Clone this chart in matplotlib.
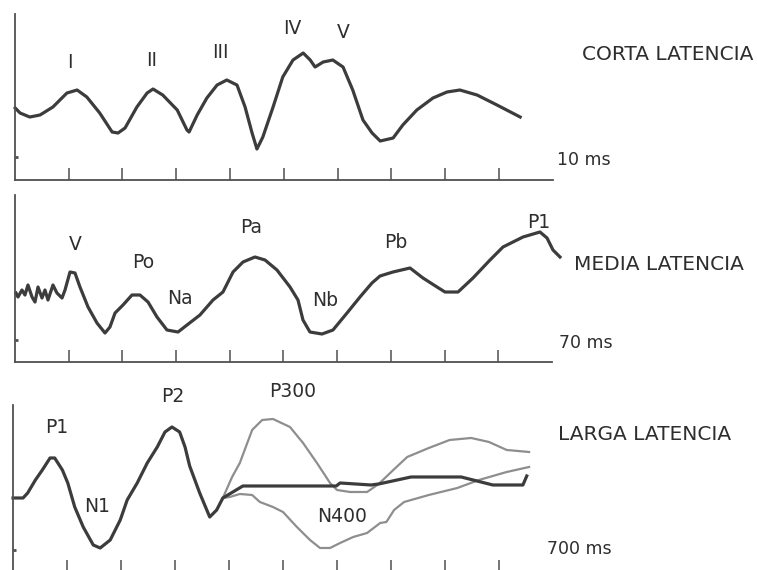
import matplotlib.pyplot as plt

plt.rcParams['font.family'] = ['DejaVu Sans']
plt.rcParams['figure.dpi'] = 100

# --- corta latencia: tiempo (ms) / amplitud relativa ---
corta_t = [0.01, 0.10, 0.28, 0.47, 0.71, 0.97, 1.16, 1.34, 1.58, 1.81, 1.92, 2.05,
           2.27, 2.46, 2.57, 2.75, 3.02, 3.20, 3.24, 3.39, 3.57, 3.76, 3.94, 4.13,
           4.28, 4.41, 4.50, 4.61, 4.80, 4.98, 5.17, 5.36, 5.49, 5.58, 5.73, 5.91,
           6.10, 6.28, 6.47, 6.64, 6.79, 7.03, 7.21, 7.47, 7.77, 8.03, 8.27, 8.59,
           8.96, 9.39]
corta_a = [7.2, 6.7, 6.3, 6.5, 7.3, 8.7, 9.0, 8.3, 6.7, 4.8, 4.7, 5.2,
           7.3, 8.7, 9.1, 8.5, 7.0, 5.0, 4.8, 6.5, 8.2, 9.5, 10.0, 9.5,
           7.3, 4.7, 3.1, 4.3, 7.3, 10.3, 12.0, 12.7, 12.0, 11.3, 11.8, 12.0,
           11.3, 9.0, 6.0, 4.7, 3.9, 4.2, 5.5, 7.0, 8.2, 8.8, 9.0, 8.5,
           7.5, 6.3]
corta_ticks = [1, 2, 3, 4, 5, 6, 7, 8, 9]
corta_picos = ['I', 'II', 'III', 'IV', 'V']
corta_pico_t = [1.03, 2.55, 3.82, 5.15, 6.10]
corta_pico_a = [11.8, 12.0, 12.8, 15.2, 14.8]

# --- media latencia ---
media_t = [0.13, 0.39, 0.91, 1.30, 1.69, 2.22, 2.61, 3.00, 3.52, 3.91, 4.30, 4.95,
           5.47, 6.13, 6.52, 7.17, 7.82, 8.47, 9.52, 10.69, 11.73, 12.38, 13.04,
           14.08, 15.25, 16.29, 17.34, 18.51, 19.81, 21.25, 22.42, 24.11, 25.81,
           27.11, 28.42, 29.72, 31.28, 32.59, 34.15, 35.85, 36.89, 37.54, 38.45,
           40.02, 41.45, 43.28, 44.97, 46.53, 47.58, 49.27, 51.49, 53.18, 55.01,
           56.05, 57.75, 59.70, 61.92, 63.61, 66.22, 68.43, 69.35, 70.13, 71.04]
media_a = [6.9, 6.5, 7.2, 6.7, 7.7, 6.5, 6.0, 7.5, 6.4, 7.2, 6.2, 7.7,
           6.9, 6.4, 7.2, 9.0, 8.9, 7.5, 5.5, 3.9, 2.9, 3.5, 4.9,
           5.7, 6.7, 6.7, 6.0, 4.5, 3.2, 3.0, 3.7, 4.7, 6.2,
           7.0, 9.0, 10.0, 10.5, 10.2, 9.2, 7.5, 6.2, 4.2, 3.0,
           2.8, 3.2, 4.9, 6.5, 7.9, 8.6, 9.0, 9.4, 8.4, 7.5,
           7.0, 7.0, 8.4, 10.2, 11.5, 12.5, 13.0, 12.4, 11.2, 10.5]
media_ticks = [7, 14, 21, 28, 35, 42, 49, 56, 63]
media_picos = ['V', 'Po', 'Na', 'Pa', 'Nb', 'Pb', 'P1']
media_pico_t = [7.82, 16.68, 21.5, 30.76, 40.41, 49.66, 68.3]
media_pico_a = [11.7, 10.0, 6.4, 13.4, 6.2, 11.9, 13.9]

# --- larga latencia ---
larga_t = [0, 13, 19, 29, 38, 48, 54, 64, 71, 80, 91, 104, 113, 126, 139, 148,
           161, 174, 187, 197, 206, 216, 223, 229, 242, 255, 264, 272, 285, 298,
           419, 424, 464, 474, 516, 581, 622, 661, 666]
larga_a = [7.4, 7.4, 7.9, 9.2, 10.2, 11.4, 11.4, 10.2, 8.9, 6.5, 4.5, 2.7, 2.4,
           3.2, 5.2, 7.2, 8.9, 10.9, 12.5, 14.0, 14.5, 14.0, 12.5, 10.6, 7.9, 5.5,
           6.2, 7.4, 8.0, 8.6, 8.6, 8.9, 8.7, 8.8, 9.5, 9.5, 8.7, 8.7, 9.6]
p300_t = [272, 284, 294, 310, 323, 337, 359, 376, 394, 411, 420, 437, 459, 474,
          493, 511, 539, 566, 594, 617, 640, 669]
p300_a = [7.4, 9.5, 10.9, 14.2, 15.2, 15.3, 14.5, 12.9, 10.9, 8.9, 8.2, 8.0,
          8.0, 8.8, 10.2, 11.5, 12.4, 13.2, 13.4, 13.0, 12.2, 12.0]
n400_t = [272, 281, 294, 310, 320, 337, 350, 368, 385, 398, 411, 424, 441, 459,
          476, 484, 494, 507, 539, 576, 604, 640, 669]
n400_a = [7.4, 7.5, 7.8, 7.7, 7.0, 6.5, 6.0, 4.5, 3.2, 2.4, 2.4, 2.9, 3.5, 3.9,
          4.9, 5.0, 6.2, 7.0, 7.7, 8.4, 9.2, 10.0, 10.5]
larga_ticks = [70, 140, 210, 280, 350, 420, 490, 560, 630]
larga_picos = ['P1', 'N1', 'P2', 'P300', 'N400']
larga_pico_t = [57, 109, 207, 363, 426]
larga_pico_a = [14.4, 6.5, 17.5, 18.0, 5.5]

oscuro = '#3c3c3c'
gris = '#8e8e8e'
eje = '#505050'
texto = '#2e2e2e'

fig = plt.figure(figsize=(7.57, 5.70))
fig.patch.set_facecolor('white')


def panel(rect, xmax, ymax, ticks, marca):
    ax = fig.add_axes(rect)
    ax.set_xlim(0, xmax)
    ax.set_ylim(0, ymax)
    ax.patch.set_alpha(0)
    for s in ['top', 'right']:
        ax.spines[s].set_visible(False)
    for s in ['left', 'bottom']:
        ax.spines[s].set_color(eje)
        ax.spines[s].set_linewidth(1.3)
    ax.set_xticks(ticks)
    ax.set_xticklabels([])
    ax.tick_params(axis='x', direction='in', length=9, width=1.1, color=eje)
    ax.set_yticks([marca])
    ax.set_yticklabels([])
    ax.tick_params(axis='y', direction='in', length=2.5, width=2, color=eje)
    return ax


ax1 = panel([0.0194, 0.6842, 0.7111, 0.2912], 10, 16.6, corta_ticks, 2.3)
ax1.plot(corta_t, corta_a, color=oscuro, lw=2.3, clip_on=False)
for nombre, t, a in zip(corta_picos, corta_pico_t, corta_pico_a):
    ax1.text(t, a, nombre, ha='center', va='center', fontsize=13.5, color=texto)

ax2 = panel([0.0198, 0.3649, 0.7094, 0.2930], 70, 16.7, media_ticks, 2.2)
ax2.plot(media_t, media_a, color=oscuro, lw=2.3, clip_on=False)
for nombre, t, a in zip(media_picos, media_pico_t, media_pico_a):
    ax2.text(t, a, nombre, ha='center', va='center', fontsize=13.5, color=texto)

ax3 = panel([0.0172, -0.0035, 0.7133, 0.2930], 700, 16.7, larga_ticks, 2.2)
ax3.plot(p300_t, p300_a, color=gris, lw=1.6, clip_on=False)
ax3.plot(n400_t, n400_a, color=gris, lw=1.6, clip_on=False)
ax3.plot(larga_t, larga_a, color=oscuro, lw=2.3, clip_on=False)
for nombre, t, a in zip(larga_picos, larga_pico_t, larga_pico_a):
    ax3.text(t, a, nombre, ha='center', va='center', fontsize=13.5, color=texto)

# rotulos de la derecha
fig.text(582 / 757, 1 - 55 / 570, 'CORTA LATENCIA', fontsize=14.5, color=texto, va='center')
fig.text(557 / 757, 1 - 160 / 570, '10 ms', fontsize=12.5, color=texto, va='center')
fig.text(574 / 757, 1 - 264 / 570, 'MEDIA LATENCIA', fontsize=14.5, color=texto, va='center')
fig.text(559 / 757, 1 - 343 / 570, '70 ms', fontsize=12.5, color=texto, va='center')
fig.text(558 / 757, 1 - 435 / 570, 'LARGA LATENCIA', fontsize=14.5, color=texto, va='center')
fig.text(547 / 757, 1 - 549 / 570, '700 ms', fontsize=12.5, color=texto, va='center')

plt.savefig('out.png', dpi=100)
